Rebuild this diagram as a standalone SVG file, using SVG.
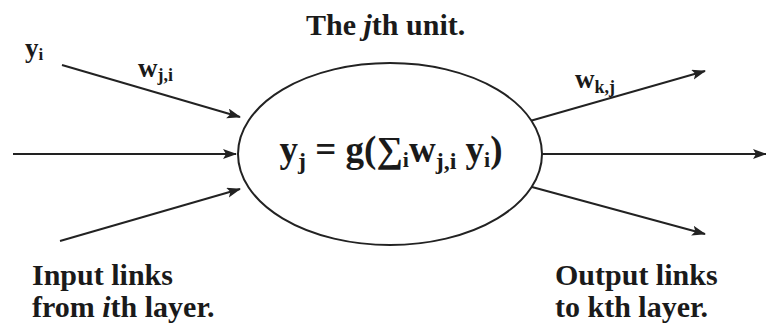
<svg xmlns="http://www.w3.org/2000/svg" width="766" height="326" viewBox="0 0 766 326">
<style>
.t{font-family:'Liberation Serif','Times New Roman',Times,'DejaVu Serif',serif;font-weight:700;fill:#1a1a1a}
.lbl{font-size:30px}
.w{font-size:27px}
.f{font-size:37px}
.ln{stroke:#222;stroke-width:2;fill:none}
</style>
<defs>
<marker id="ah" markerUnits="userSpaceOnUse" markerWidth="14" markerHeight="12" refX="13" refY="5" orient="auto">
<path d="M0,0 L14,5 L0,10 L3,5 Z" fill="#222"/>
</marker>
</defs>
<rect width="766" height="326" fill="#fff"/>
<g id="connectors">
<line class="ln" x1="62" y1="65" x2="240" y2="117" marker-end="url(#ah)"/>
<line class="ln" x1="13" y1="154" x2="236" y2="154" marker-end="url(#ah)"/>
<line class="ln" x1="60" y1="241" x2="240" y2="189" marker-end="url(#ah)"/>
<line class="ln" x1="530" y1="121" x2="705" y2="71" marker-end="url(#ah)"/>
<line class="ln" x1="541" y1="154" x2="766" y2="154" marker-end="url(#ah)"/>
<line class="ln" x1="532" y1="187" x2="705" y2="234" marker-end="url(#ah)"/>
</g>
<g id="unit">
<ellipse cx="390" cy="154" rx="152" ry="91" fill="#fff" stroke="#222" stroke-width="2"/>
<text class="t f" x="391" y="162" text-anchor="middle" font-family="Liberation Serif, serif">y<tspan font-size="24" dy="7">j</tspan><tspan dy="-7"> = g(∑</tspan><tspan font-size="22" dy="5">i</tspan><tspan dy="-5">w</tspan><tspan font-size="24" dy="7">j,i</tspan><tspan dy="-7"> y</tspan><tspan font-size="22" dy="5">i</tspan><tspan dy="-5">)</tspan></text>
</g>
<g id="title">
<text class="t lbl" x="306" y="35" font-family="Liberation Serif, serif">The <tspan font-style="italic">j</tspan>th unit.</text>
</g>
<g id="input-labels">
<text class="t w" x="25" y="57" font-family="Liberation Serif, serif">y<tspan font-size="17" dy="3">i</tspan></text>
<text class="t w" x="138" y="77" font-family="Liberation Serif, serif">w<tspan font-size="18" dy="4">j,i</tspan></text>
<text class="t lbl" x="32" y="285" font-family="Liberation Serif, serif">Input links</text>
<text class="t lbl" x="32" y="317" font-family="Liberation Serif, serif">from <tspan font-style="italic">i</tspan>th layer.</text>
</g>
<g id="output-labels">
<text class="t w" x="575" y="88" font-family="Liberation Serif, serif">w<tspan font-size="18" dy="5">k,j</tspan></text>
<text class="t lbl" x="555" y="285" font-family="Liberation Serif, serif">Output links</text>
<text class="t lbl" x="555" y="317" font-family="Liberation Serif, serif">to kth layer.</text>
</g>
</svg>
